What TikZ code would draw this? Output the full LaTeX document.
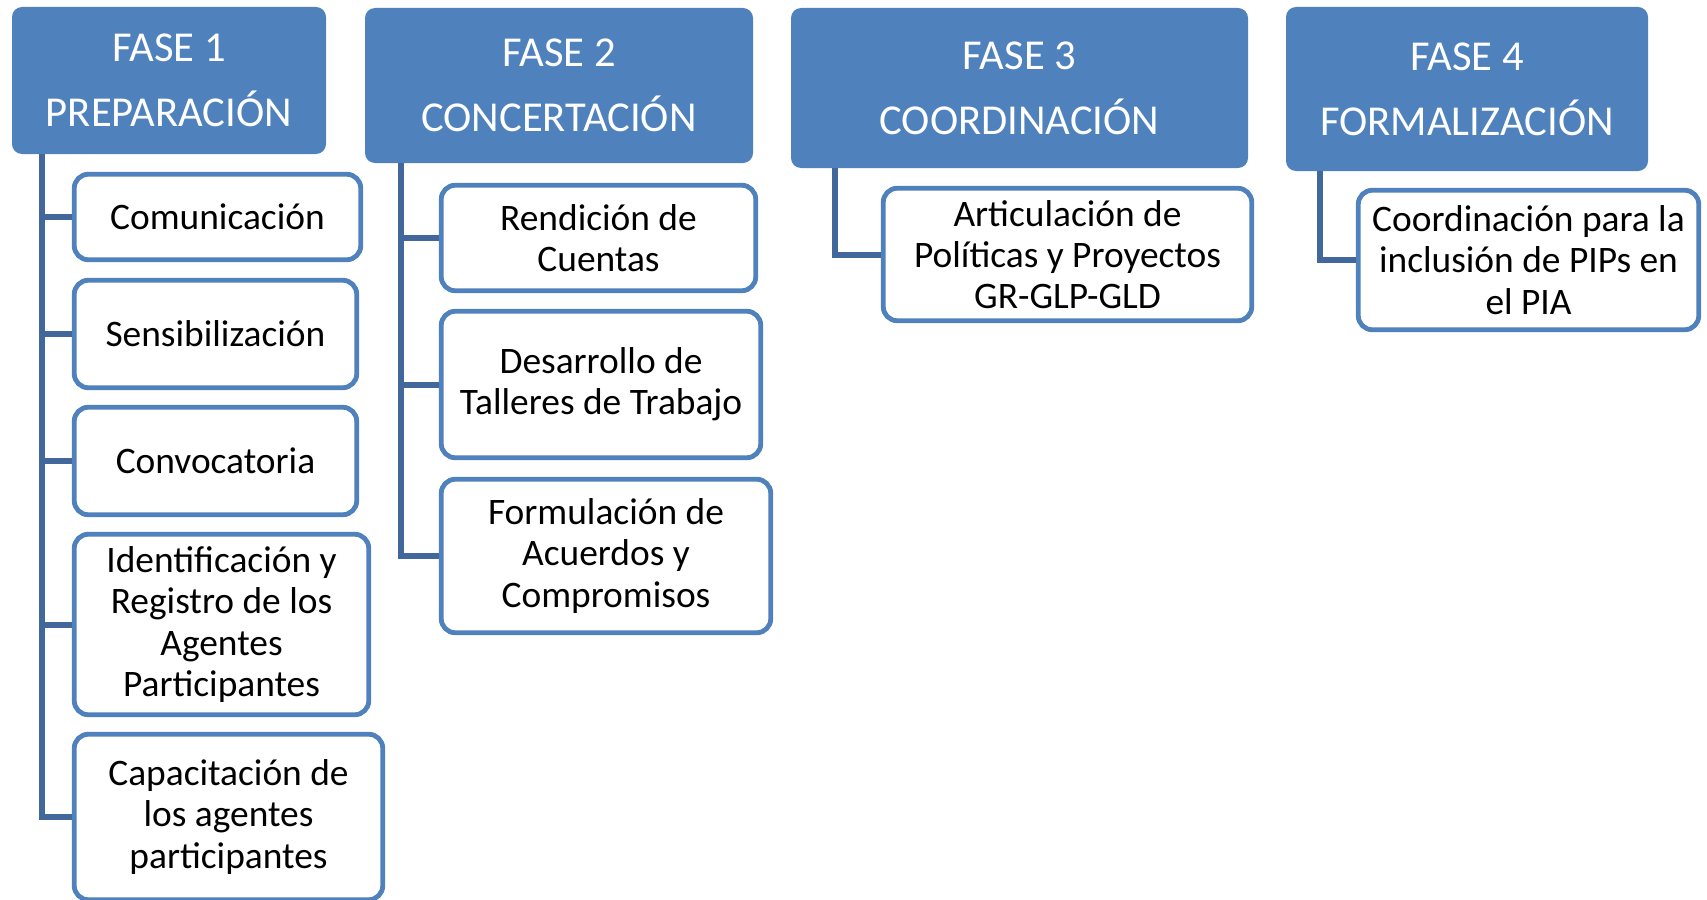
\documentclass[tikz,border=0pt]{standalone}
\usepackage{fontspec}
\setmainfont{Carlito}
\usepackage{tikz}
\usetikzlibrary{positioning}
\definecolor{faseblue}{HTML}{4F81BD}
\definecolor{linkblue}{HTML}{41679B}
\tikzset{
	fase/.style={shape=rectangle,rounded corners=5pt,fill=faseblue,draw=none,text=white,align=center,
		font=\fontsize{21.3}{32.5}\selectfont,inner sep=0pt},
	tarea/.style={shape=rectangle,rounded corners=7pt,fill=white,draw=faseblue,line width=2.4pt,
		align=center,font=\fontsize{18.7}{20.6}\selectfont,inner sep=0pt},
	enlace/.style={draw=linkblue,line width=3pt,line join=miter}
}
\begin{document}
	\begin{tikzpicture}[x=0.5pt,y=-0.5pt]
		\useasboundingbox (0,0) rectangle (1707,899);
		% fases
		\node(f1) at (169,80.5) [fase,minimum width=157pt,minimum height=73.5pt] {FASE 1\\PREPARACIÓN};
		\node(f2) at (559,85.5) [fase,minimum width=194pt,minimum height=77.5pt] {FASE 2\\CONCERTACIÓN};
		\node(f3) at (1019.5,88) [fase,minimum width=228.5pt,minimum height=80pt] {FASE 3\\COORDINACIÓN};
		\node(f4) at (1467,89) [fase,minimum width=181pt,minimum height=82pt] {FASE 4\\FORMALIZACIÓN};
		% fase 1
		\node(c11) at (217.5,217) [tarea,minimum width=143.25pt,minimum height=42.75pt] {Comunicación};
		\node(c12) at (215.5,334) [tarea,minimum width=141.25pt,minimum height=53.75pt] {Sensibilización};
		\node(c13) at (215.5,461) [tarea,minimum width=141.25pt,minimum height=53.75pt] {Convocatoria};
		\node(c14) at (221.5,624.5) [tarea,minimum width=147.25pt,minimum height=90.25pt] {Identificación y\\Registro de los\\Agentes\\Participantes};
		\node(c15) at (228.5,817) [tarea,minimum width=154.25pt,minimum height=82.75pt] {Capacitación de\\los agentes\\participantes};
		% fase 2
		\node(c21) at (598.5,238) [tarea,minimum width=157.25pt,minimum height=52.75pt] {Rendición de\\Cuentas};
		\node(c22) at (601,384.5) [tarea,minimum width=159.75pt,minimum height=73.25pt] {Desarrollo de\\Talleres de Trabajo};
		\node(c23) at (606,556) [tarea,minimum width=164.75pt,minimum height=76.75pt] {Formulación de\\Acuerdos y\\Compromisos};
		% fase 3 y 4
		\node(c31) at (1067.5,254.5) [tarea,minimum width=184.25pt,minimum height=66.25pt] {Articulación de\\Políticas y Proyectos\\GR-GLP-GLD};
		\node(c41) at (1528.5,260) [tarea,minimum width=170.25pt,minimum height=69.75pt] {Coordinación para la\\inclusión de PIPs en\\el PIA};
		% enlaces
		\draw[enlace] ([xshift=15pt]f1.south west) |- (c11.west);
		\draw[enlace] ([xshift=15pt]f1.south west) |- (c12.west);
		\draw[enlace] ([xshift=15pt]f1.south west) |- (c13.west);
		\draw[enlace] ([xshift=15pt]f1.south west) |- (c14.west);
		\draw[enlace] ([xshift=15pt]f1.south west) |- (c15.west);
		\draw[enlace] ([xshift=18pt]f2.south west) |- (c21.west);
		\draw[enlace] ([xshift=18pt]f2.south west) |- (c22.west);
		\draw[enlace] ([xshift=18pt]f2.south west) |- (c23.west);
		\draw[enlace] ([xshift=22pt]f3.south west) |- (c31.west);
		\draw[enlace] ([xshift=17pt]f4.south west) |- (c41.west);
	\end{tikzpicture}
\end{document}
